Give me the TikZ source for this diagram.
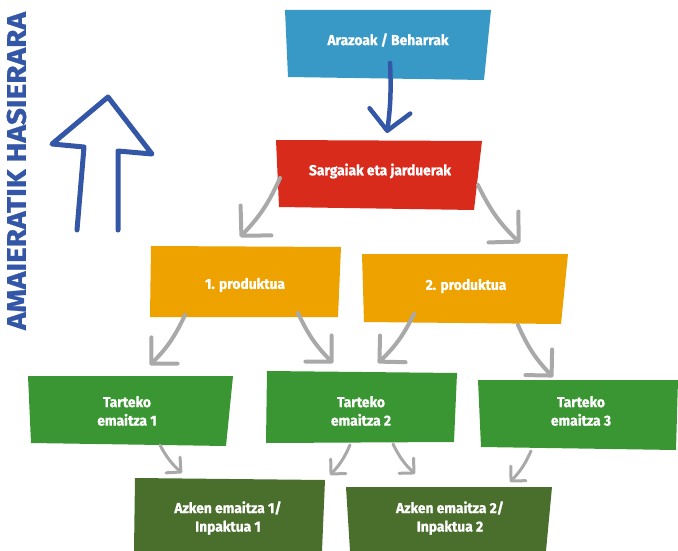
\documentclass[tikz,border=0pt]{standalone}
\usepackage{fontspec}
\setmainfont{Fira Sans}
\newfontfamily\lblfont{Fira Sans}[FakeStretch=0.95, BoldFeatures={FakeBold=1}]
\newfontfamily\sidefont{Fira Sans}[FakeStretch=1.1, BoldFeatures={FakeBold=1}]
\usetikzlibrary{arrows.meta}
\definecolor{cblue}{HTML}{3999C6}
\definecolor{cred}{HTML}{D92B1C}
\definecolor{corange}{HTML}{EEA200}
\definecolor{cgreen}{HTML}{3A9632}
\definecolor{cdgreen}{HTML}{4A6E2C}
\definecolor{cnavy}{HTML}{3356A6}
\definecolor{cgray}{HTML}{A9A9A9}
\begin{document}
\begin{tikzpicture}[x=1pt,y=-1pt,
  lbl/.style={text=white, font=\lblfont\bfseries\fontsize{14.5}{18.5}\selectfont, align=center, inner sep=0pt},
  side/.style={text=cnavy, font=\sidefont\bfseries\fontsize{27}{30}\selectfont, inner sep=0pt, rotate=90},
  garrowA/.style={draw=cgray, line width=4pt, line cap=round, -{Straight Barb[length=21pt,width=43pt,round]}},
  garrowB/.style={draw=cgray, line width=4pt, line cap=round, -{Straight Barb[length=18.5pt,width=37pt,round]}},
  garrowC/.style={draw=cgray, line width=3pt, line cap=round, -{Straight Barb[length=10.5pt,width=21pt,round]}},
  barrow/.style={draw=cnavy, line width=4.5pt, line cap=round, -{Straight Barb[length=20pt,width=41pt,round]}},
]
\useasboundingbox (0,0) rectangle (678,551);
% boxes
\fill[cblue]   (285,10) -- (491,10) -- (484,80) -- (288,77) -- cycle;
\fill[cred]    (276,140) -- (482,141) -- (474,210) -- (279,207) -- cycle;
\fill[corange] (151,246) -- (341,247) -- (338,317) -- (150,317) -- cycle;
\fill[corange] (362,254) -- (568,254) -- (561,324) -- (364,322) -- cycle;
\fill[cgreen]  (28,376) -- (233,376) -- (226,446) -- (31,443) -- cycle;
\fill[cgreen]  (267,371) -- (457,373) -- (454,442) -- (266,443) -- cycle;
\fill[cgreen]  (478,380) -- (678,380) -- (676,450) -- (481,447) -- cycle;
\fill[cdgreen] (135,478) -- (325,480) -- (322,551) -- (134,551) -- cycle;
\fill[cdgreen] (346,487) -- (552,487) -- (546,551) -- (350,551) -- cycle;
% labels
\node[lbl] (prob) at (388,40) {Arazoak / Beharrak};
\node[lbl] (inp)  at (380,171) {Sargaiak eta jarduerak};
\node[lbl] (p1)   at (245,285) {1. produktua};
\node[lbl] (p2)   at (466,286) {2. produktua};
\node[lbl] (t1)   at (127,411) {Tarteko\\emaitza 1};
\node[lbl] (t2)   at (361,411) {Tarteko\\emaitza 2};
\node[lbl] (t3)   at (581,411) {Tarteko\\emaitza 3};
\node[lbl] (a1)   at (228,518) {Azken emaitza 1/\\Inpaktua 1};
\node[lbl] (a2)   at (450,518) {Azken emaitza 2/\\Inpaktua 2};
\node[side] (sidelbl) at (16.5,171) {AMAIERATIK HASIERARA};
% big up arrow
\draw[cnavy, line width=5pt, line cap=round, line join=round]
  (77,230) -- (84,147) -- (52,144) -- (108,97) -- (152,154) -- (118,151) -- (118,230);
% connector end points
\coordinate (bs) at (390,63);   \coordinate (be) at (387,133);
\coordinate (c1s) at (280,178); \coordinate (c1e) at (240,237);
\coordinate (c2s) at (478,185); \coordinate (c2e) at (520,243);
\coordinate (c3s) at (185,315); \coordinate (c3e) at (150,365);
\coordinate (c4s) at (298,313); \coordinate (c4e) at (333,363);
\coordinate (c5s) at (414,314); \coordinate (c5e) at (378,363);
\coordinate (c6s) at (518,325); \coordinate (c6e) at (553,377);
\coordinate (c7s) at (160,445); \coordinate (c7e) at (182,473);
\coordinate (c8s) at (350,445); \coordinate (c8e) at (330,475);
\coordinate (c9s) at (393,444); \coordinate (c9e) at (415,474);
\coordinate (c10s) at (531,451); \coordinate (c10e) at (510,482);
% connectors
\draw[barrow] (bs) to[bend left=5] (be);
\draw[garrowA] (c1s) to[bend left=10] (c1e);
\draw[garrowA] (c2s) to[bend right=10] (c2e);
\draw[garrowB] (c3s) to[bend left=10] (c3e);
\draw[garrowB] (c4s) to[bend right=10] (c4e);
\draw[garrowB] (c5s) to[bend left=10] (c5e);
\draw[garrowB] (c6s) to[bend right=10] (c6e);
\draw[garrowC] (c7s) to[bend right=10] (c7e);
\draw[garrowC] (c8s) to[bend left=10] (c8e);
\draw[garrowC] (c9s) to[bend right=10] (c9e);
\draw[garrowC] (c10s) to[bend left=10] (c10e);
\end{tikzpicture}
\end{document}
